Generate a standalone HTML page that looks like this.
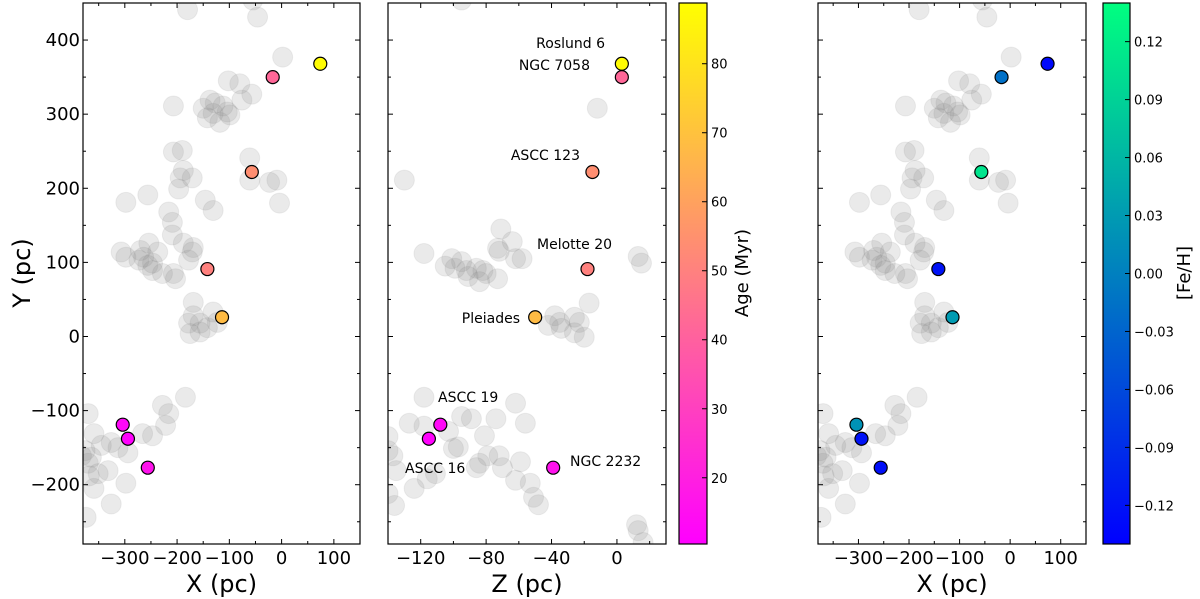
<!DOCTYPE html>
<html><head><meta charset="utf-8"><style>
html,body{margin:0;padding:0;background:#fff;}
svg{display:block;font-family:"DejaVu Sans","Liberation Sans",sans-serif;}
</style></head><body>
<svg id="fig" width="1200" height="599" viewBox="0 0 1200 599" xmlns="http://www.w3.org/2000/svg"></svg>
<script>
// ---- data ----
const bgX = [-180,-55,-46,2,-207,-102,-80,-57,-137,-127,-150,-142,-131,-118,-104,-99,-112,-76,-207,-190,-188,-194,-171,-197,-298,-256,-146,-131,-216,-209,-209,-188,-169,-171,-178,-307,-298,-270,-254,-237,-273,-256,-247,-228,-207,-203,-247,-264,-61,-61,-23,-9,-4,-169,-169,-178,-175,-156,-142,-131,-123,-156,-184,-228,-216,-222,-247,-266,-326,-313,-294,-332,-298,-326,-359,-370,-364,-370,-359,-374,-345,-351,-376,-368,-383];
const bgY = [441,454,431,377,311,345,341,327,319,315,308,295,301,289,303,299,311,319,249,251,224,214,214,199,181,191,184,170,168,154,137,126,120,114,103,114,107,116,126,114,103,96,89,85,85,78,99,107,241,211,208,211,180,46,28,18,4,18,12,33,19,6,-82,-93,-104,-120,-134,-131,-143,-150,-157,-181,-198,-226,-205,-171,-163,-104,-131,-244,-147,-185,-154,-188,-161];
const bgZ2 = [-130,-95,-12,-71,-64,-73,-72,-62,-58,-118,-101,-95,-105,-99,-92,-86,-82,-91,-84,-73,-80,13,15,-17,-38,-35,-42,-26,-23,-34,-26,-20,-118,-62,-95,-89,-74,-56,-127,-118,-103,-81,-100,-97,-79,-72,-84,-86,-70,-59,-62,-53,-51,-48,-124,-111,-116,-140,-137,-135,-140,-136,-140,12,13,16];
const bgY2 = [211,454,308,145,128,119,115,105,105,112,105,101,95,92,89,92,89,81,74,78,85,108,99,45,28,19,15,26,19,11,5,-1,-82,-90,-108,-111,-111,-117,-117,-121,-128,-134,-151,-149,-161,-161,-171,-177,-177,-169,-194,-198,-217,-227,-205,-185,-192,-154,-161,-181,-212,-228,-135,-254,-262,-278];
const clNames = ["Roslund 6","NGC 7058","ASCC 123","Melotte 20","Pleiades","ASCC 19","ASCC 16","NGC 2232"];
const clX = [74,-17,-57,-142,-114,-304,-294,-256];
const clY = [368,350,222,91,26,-119,-138,-177];
const clZ = [3,3,-15,-18,-50,-108,-115,-39];
const clAge = [88,42,54,50,68,13,11,16];
const clFeH = [-0.13,-0.017,0.11,-0.12,0.03,0.02,-0.12,-0.125];
const xTicks = [-300,-200,-100,0,100];
const yTicks = [-200,-100,0,100,200,300,400];
const zTicks = [-120,-80,-40,0];
const ageTicks = [20,30,40,50,60,70,80];
const fehTicks = [-0.12,-0.09,-0.06,-0.03,0.00,0.03,0.06,0.09,0.12];

const NS="http://www.w3.org/2000/svg";
const svg=document.getElementById('fig');
function el(tag,attrs,parent){const e=document.createElementNS(NS,tag);for(const k in attrs)e.setAttribute(k,attrs[k]);(parent||svg).appendChild(e);return e;}
function lin(d0,d1,r0,r1){return v=>r0+(v-d0)*(r1-r0)/(d1-d0);}

const T=3,B=544;
const yS=lin(-280,450,B,T);
const panels=[
 {name:'xy-panel',L:83,R:360,xd:[-380,150],xt:xTicks,xm:50,xlab:'X (pc)',ylabels:true},
 {name:'zy-panel',L:388,R:666,xd:[-140,30],xt:zTicks,xm:20,xlab:'Z (pc)',ylabels:false},
 {name:'xy-feh-panel',L:818,R:1086,xd:[-380,150],xt:xTicks,xm:50,xlab:'X (pc)',ylabels:false}
];
const defs=el('defs',{});
function spring(t){t=Math.max(0,Math.min(1,t));return `rgb(255,${Math.round(255*t)},${Math.round(255*(1-t))})`;}
function winter(t){t=Math.max(0,Math.min(1,t));return `rgb(0,${Math.round(255*t)},${Math.round(255*(1-0.5*t))})`;}
const ageMin=10.4,ageMax=88.8,fMin=-0.14,fMax=0.14;

panels.forEach((p,i)=>{
  const xS=lin(p.xd[0],p.xd[1],p.L,p.R);
  const cp=el('clipPath',{id:'clip'+i},defs);
  el('rect',{x:p.L,y:T,width:p.R-p.L,height:B-T},cp);
  const g=el('g',{'clip-path':`url(#clip${i})`});
  
  
  const xs = i===1?bgZ2:bgX, ys = i===1?bgY2:bgY;
  for(let k=0;k<xs.length;k++){
    const c=el('circle',{cx:xS(xs[k]),cy:yS(ys[k]),r:10,fill:'#808080','fill-opacity':0.17,stroke:'#808080','stroke-opacity':0.12},g);
    
    
  }
  for(let k=0;k<clNames.length;k++){
    const vx = i===1?clZ[k]:clX[k];
    const col = i===2?winter((clFeH[k]-fMin)/(fMax-fMin)):spring((clAge[k]-ageMin)/(ageMax-ageMin));
    const c=el('circle',{cx:xS(vx),cy:yS(clY[k]),r:6.5,fill:col,stroke:'#000','stroke-width':1.2},g);
    
    
  }
  const fr=el('rect',{x:p.L,y:T,width:p.R-p.L,height:B-T,fill:'none',stroke:'#000','stroke-width':1.2});
  
  
  const tg=el('g',{stroke:'#000','stroke-width':1});
  for(let v=Math.ceil(p.xd[0]/p.xm)*p.xm;v<=p.xd[1];v+=p.xm){
    const x=xS(v);const major=p.xt.includes(v);const len=major?5:3;
    el('line',{x1:x,y1:B,x2:x,y2:B-len},tg);el('line',{x1:x,y1:T,x2:x,y2:T+len},tg);
  }
  for(let v=-250;v<=450;v+=50){
    const y=yS(v);const len=(v%100===0)?5:3;
    el('line',{x1:p.L,y1:y,x2:p.L+len,y2:y},tg);el('line',{x1:p.R,y1:y,x2:p.R-len,y2:y},tg);
  }
  p.xt.forEach(v=>{
    const t=el('text',{x:xS(v),y:B+20,'font-size':18,'text-anchor':'middle'});
    t.textContent=(v<0?'\u2212'+(-v):v);
    
    
  });
  const xl=el('text',{x:(p.L+p.R)/2,y:592,'font-size':24,'text-anchor':'middle'});
  xl.textContent=p.xlab;
  
  
  if(p.ylabels){
    yTicks.forEach(v=>{
      const t=el('text',{x:p.L-3,y:yS(v)+6,'font-size':18,'text-anchor':'end'});
      t.textContent=(v<0?'\u2212'+(-v):v);
      
      
    });
  }
});
const yl=el('text',{x:30,y:273,'font-size':24,'text-anchor':'middle',transform:'rotate(-90 30 273)'});
yl.textContent='Y (pc)';



const ann=[['Roslund 6',605,48,'end'],['NGC 7058',590,70,'end'],['ASCC 123',580,160,'end'],['Melotte 20',537,249,'start'],['Pleiades',520,323,'end'],['ASCC 19',438,402,'start'],['ASCC 16',405,473,'start'],['NGC 2232',570,466,'start']];
ann.forEach(a=>{
  const t=el('text',{x:a[1],y:a[2],'font-size':14,'text-anchor':a[3]});
  t.textContent=a[0];
  
  
});

function colorbar(L,R,id,fn,ticks,dmin,dmax,fmt,title,tx,name){
  const gr=el('linearGradient',{id:id,x1:0,y1:1,x2:0,y2:0},defs);
  for(let s=0;s<=10;s++){el('stop',{offset:s/10,'stop-color':fn(s/10)},gr);}
  const r=el('rect',{x:L,y:T,width:R-L,height:B-T,fill:`url(#${id})`,stroke:'#000','stroke-width':1.2});
  
  
  const s=lin(dmin,dmax,B,T);
  ticks.forEach(v=>{
    const y=s(v);
    el('line',{x1:R,y1:y,x2:R-5,y2:y,stroke:'#000'});
    const t=el('text',{x:R+4,y:y+5,'font-size':13});
    t.textContent=fmt(v);
    
    
  });
  const tt=el('text',{x:tx,y:273,'font-size':18,'text-anchor':'middle',transform:`rotate(-90 ${tx} 273)`});
  tt.textContent=title;
  
  
}
colorbar(679,707,'gAge',spring,ageTicks,ageMin,ageMax,v=>String(v),'Age (Myr)',748,'age-colorbar');
colorbar(1103,1130,'gFeh',winter,fehTicks,fMin,fMax,v=>(v<0?'\u2212':'')+Math.abs(v).toFixed(2),'[Fe/H]',1190,'feh-colorbar');
</script>
</body></html>
